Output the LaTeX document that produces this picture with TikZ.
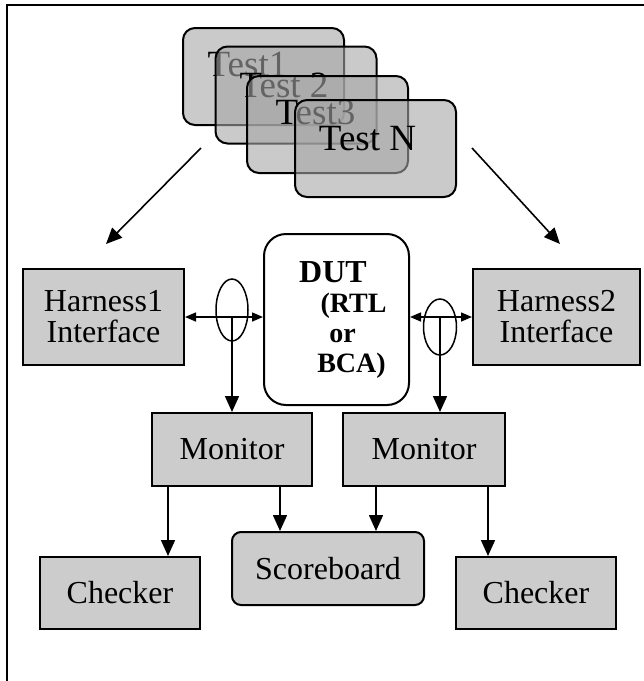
\documentclass[tikz,border=0pt]{standalone}
\usepackage{fontspec}
\setmainfont{Liberation Serif}
\usepackage{tikz}
\usetikzlibrary{arrows.meta,calc,positioning,shapes}
\tikzset{grey box/.style={
    draw, line width=2pt,
    fill=black!20,
    inner sep=0pt,
    minimum width=#1,
    align=center,
    font=\fontsize{32}{31}\selectfont
  },
  grey box/.default=160pt,
  test box/.style={
    draw, line width=2pt,
    rounded corners=12pt,
    fill=black!35, fill opacity=0.6,
    minimum width=161pt, minimum height=97pt
  },
  test label/.style={font=\fontsize{37}{37}\selectfont},
  tap/.style={draw, ellipse, line width=1.5pt, inner sep=0pt},
  flow/.style={-{Triangle[width=14pt,length=16pt]}, line width=1.6pt},
  bus/.style={{Triangle[width=9pt,length=11pt]}-{Triangle[width=9pt,length=11pt]}, line width=1.5pt}
}

\begin{document}
\begin{tikzpicture}[x=1pt,y=-1pt]
    \useasboundingbox (0,0) rectangle (644,681);
    \draw[line width=2.5pt] (644,5) -- (7,5) -- (7,681);
    % stacked tests
    \node[test box, label={[test label,xshift=-16pt,yshift=12pt]center:Test1}] (test1) at (263.5,76.5) {};
    \node[test box, label={[test label,xshift=-12pt,yshift=10pt]center:Test 2}] (test2) at (296,95) {};
    \node[test box, label={[test label,xshift=-12pt,yshift=12pt]center:Test3}] (test3) at (327.5,124.5) {};
    \node[test box, label={[test label,xshift=-8pt,yshift=10pt]center:Test N}] (testN) at (375.5,148.5) {};
    \coordinate (fanl) at (201,148);
    \coordinate (fanr) at (472,148);
    \coordinate (hinl) at (106,244);
    \coordinate (hinr) at (560,244);
    \draw[flow] (fanl) -- (hinl);
    \draw[flow] (fanr) -- (hinr);
    % harnesses and dut
    \node[grey box=161pt, minimum height=96pt] (harness1) at (103.5,317) {Harness1\\Interface};
    \node[grey box=167pt, minimum height=96pt] (harness2) at (556.5,317) {Harness2\\Interface};
    \node[draw, line width=2pt, rounded corners=22pt, fill=white,
          minimum width=145pt, minimum height=171pt, align=center,
          font=\bfseries\fontsize{28}{30}\selectfont] (dut) at (336.5,319.5)
        {{\fontsize{32}{30}\selectfont DUT}\hspace*{7pt}\\ \hspace*{34pt}(RTL\\ \hspace*{12pt}or\\ \hspace*{30pt}BCA)};
    \node[tap, minimum width=32pt, minimum height=62pt] (tap1) at (232,310) {};
    \node[tap, minimum width=33pt, minimum height=56pt] (tap2) at (440,327) {};
    \draw[bus] (harness1.east) -- (harness1.east -| dut.west);
    \draw[bus] (dut.east |- harness2.west) -- (harness2.west);
    % monitors
    \node[grey box, minimum height=73pt] (monitor1) at (232,449.5) {Monitor};
    \node[grey box=162pt, minimum height=73pt] (monitor2) at (424,449.5) {Monitor};
    \draw[flow] (monitor1.north |- harness1.east) -- (monitor1.north);
    \draw[flow] (tap2 |- harness2.west) -- (tap2 |- monitor2.north);
    % checkers and scoreboard
    \node[grey box, minimum height=72pt] (checker1) at (120,593) {Checker};
    \node[grey box, minimum height=72pt] (checker2) at (536,593) {Checker};
    \node[grey box=192pt, minimum height=73pt, rounded corners=9pt] (score) at (328,568.5) {Scoreboard};
    \draw[flow] ([xshift=-64pt]monitor1.south) -- ([xshift=-64pt]monitor1.south |- checker1.north);
    \draw[flow] ([xshift=48pt]monitor1.south) -- ([xshift=48pt]monitor1.south |- score.north);
    \draw[flow] ([xshift=-48pt]monitor2.south) -- ([xshift=-48pt]monitor2.south |- score.north);
    \draw[flow] ([xshift=64pt]monitor2.south) -- ([xshift=64pt]monitor2.south |- checker2.north);
\end{tikzpicture}
\end{document}
